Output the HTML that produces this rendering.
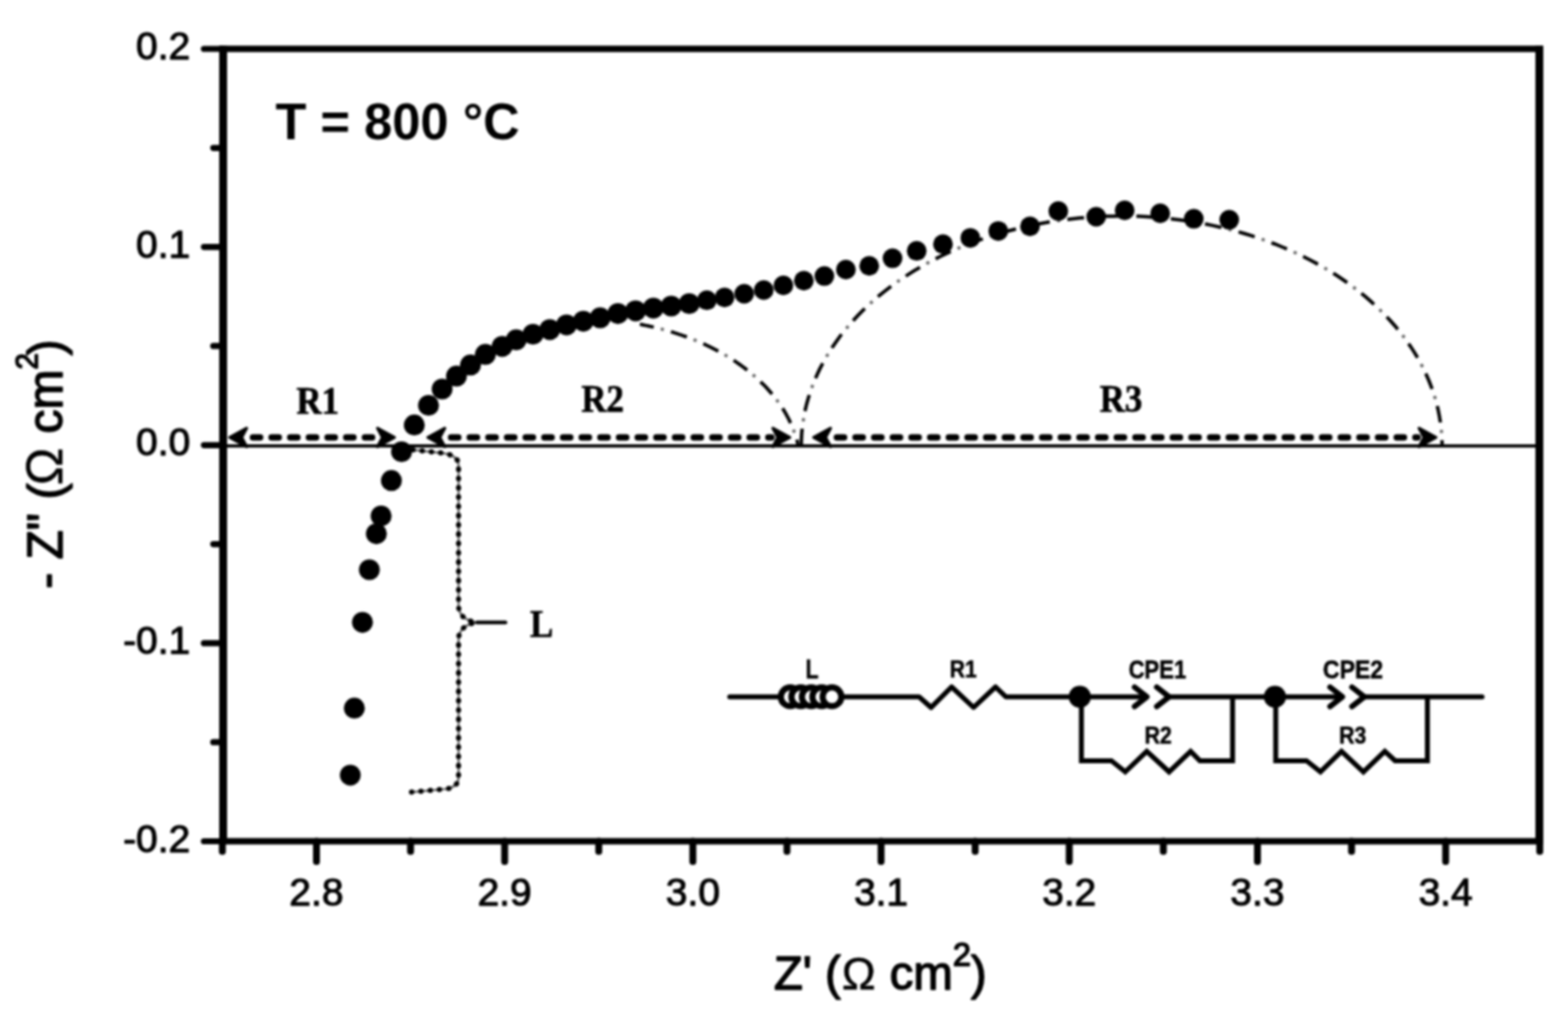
<!DOCTYPE html>
<html lang="en"><head><meta charset="utf-8"><title>Nyquist plot, T = 800 °C</title>
<style>
html,body{margin:0;padding:0;background:#fff;}
body{width:1588px;height:1032px;overflow:hidden;}
svg{display:block;filter:blur(0.85px);}
.sans{font-family:"Liberation Sans",sans-serif;fill:#000;}
.serif{font-family:"Liberation Serif",serif;font-weight:bold;fill:#000;}
.tk{font-size:39.4px;stroke:#000;stroke-width:1.1px;stroke-linejoin:round;paint-order:stroke;}
.ax{font-size:48px;stroke:#000;stroke-width:1.4px;stroke-linejoin:round;}
.ttl{font-size:51.3px;font-weight:bold;stroke:none;stroke-linejoin:round;}
.rl{font-size:39px;stroke:#000;stroke-width:0.7px;stroke-linejoin:round;}
.cl{font-weight:bold;font-size:26.5px;stroke:#000;stroke-width:0.5px;}
.cr{font-weight:bold;font-size:24.3px;stroke:#000;stroke-width:0.5px;}
</style></head><body>
<svg width="1588" height="1032" viewBox="0 0 1588 1032">
<rect x="0" y="0" width="1588" height="1032" fill="#fff"/>
<g id="plot">
<line x1="226.0" y1="451.6" x2="1559.0" y2="451.6" stroke="#000" stroke-width="3.1"/>
<path d="M808.5 451.6 L808.2 450.2 L807.8 448.7 L807.5 447.3 L807.1 445.8 L806.7 444.4 L806.3 443.0 L805.8 441.6 L805.3 440.1 L804.9 438.7 L804.3 437.3 L803.8 435.9 L803.3 434.5 L802.7 433.1 L802.1 431.7 L801.5 430.3 L800.9 428.9 L800.2 427.5 L799.6 426.1 L798.9 424.7 L798.2 423.3 L797.5 422.0 L796.7 420.6 L796.0 419.2 L795.2 417.9 L794.4 416.5 L793.6 415.2 L792.7 413.8 L791.9 412.5 L791.0 411.2 L790.1 409.8 L789.2 408.5 L788.2 407.2 L787.3 405.9 L786.3 404.6 L785.3 403.3 L784.3 402.0 L783.3 400.8 L782.3 399.5 L781.2 398.2 L780.1 397.0 L779.0 395.7 L777.9 394.5 L776.8 393.2 L775.7 392.0 L774.5 390.8 L773.3 389.6 L772.1 388.4 L770.9 387.2 L769.7 386.0 L768.4 384.8 L767.2 383.6 L765.9 382.5 L764.6 381.3 L763.3 380.2 L761.9 379.0 L760.6 377.9 L759.2 376.8 L757.8 375.7 L756.5 374.6 L755.0 373.5 L753.6 372.4 L752.2 371.3 L750.7 370.3 L749.3 369.2 L747.8 368.2 L746.3 367.1 L744.8 366.1 L743.2 365.1 L741.7 364.1 L740.1 363.1 L738.6 362.1 L737.0 361.1 L735.4 360.2 L733.8 359.2 L732.2 358.3 L730.5 357.4 L728.9 356.4 L727.2 355.5 L725.5 354.6 L723.8 353.8 L722.1 352.9 L720.4 352.0 L718.7 351.2 L717.0 350.3 L715.2 349.5 L713.5 348.7 L711.7 347.9 L709.9 347.1 L708.1 346.3 L706.3 345.6 L704.5 344.8 L702.7 344.1 L700.8 343.3 L699.0 342.6 L697.1 341.9 L695.3 341.2 L693.4 340.5 L691.5 339.9 L689.6 339.2 L687.7 338.6 L685.8 337.9 L683.9 337.3 L682.0 336.7 L680.0 336.1 L678.1 335.5 L676.1 335.0 L674.1 334.4 L672.2 333.9 L670.2 333.3 L668.2 332.8 L666.2 332.3 L664.2 331.8 L662.2 331.4 L660.2 330.9 L658.2 330.5 L656.2 330.0 L654.1 329.6 L652.1 329.2 L650.0 328.8 L648.0 328.4" fill="none" stroke="#000" stroke-width="3.5" stroke-dasharray="17 18" stroke-dashoffset="10.5"/><path d="M808.5 451.6 L808.2 450.2 L807.8 448.7 L807.5 447.3 L807.1 445.8 L806.7 444.4 L806.3 443.0 L805.8 441.6 L805.3 440.1 L804.9 438.7 L804.3 437.3 L803.8 435.9 L803.3 434.5 L802.7 433.1 L802.1 431.7 L801.5 430.3 L800.9 428.9 L800.2 427.5 L799.6 426.1 L798.9 424.7 L798.2 423.3 L797.5 422.0 L796.7 420.6 L796.0 419.2 L795.2 417.9 L794.4 416.5 L793.6 415.2 L792.7 413.8 L791.9 412.5 L791.0 411.2 L790.1 409.8 L789.2 408.5 L788.2 407.2 L787.3 405.9 L786.3 404.6 L785.3 403.3 L784.3 402.0 L783.3 400.8 L782.3 399.5 L781.2 398.2 L780.1 397.0 L779.0 395.7 L777.9 394.5 L776.8 393.2 L775.7 392.0 L774.5 390.8 L773.3 389.6 L772.1 388.4 L770.9 387.2 L769.7 386.0 L768.4 384.8 L767.2 383.6 L765.9 382.5 L764.6 381.3 L763.3 380.2 L761.9 379.0 L760.6 377.9 L759.2 376.8 L757.8 375.7 L756.5 374.6 L755.0 373.5 L753.6 372.4 L752.2 371.3 L750.7 370.3 L749.3 369.2 L747.8 368.2 L746.3 367.1 L744.8 366.1 L743.2 365.1 L741.7 364.1 L740.1 363.1 L738.6 362.1 L737.0 361.1 L735.4 360.2 L733.8 359.2 L732.2 358.3 L730.5 357.4 L728.9 356.4 L727.2 355.5 L725.5 354.6 L723.8 353.8 L722.1 352.9 L720.4 352.0 L718.7 351.2 L717.0 350.3 L715.2 349.5 L713.5 348.7 L711.7 347.9 L709.9 347.1 L708.1 346.3 L706.3 345.6 L704.5 344.8 L702.7 344.1 L700.8 343.3 L699.0 342.6 L697.1 341.9 L695.3 341.2 L693.4 340.5 L691.5 339.9 L689.6 339.2 L687.7 338.6 L685.8 337.9 L683.9 337.3 L682.0 336.7 L680.0 336.1 L678.1 335.5 L676.1 335.0 L674.1 334.4 L672.2 333.9 L670.2 333.3 L668.2 332.8 L666.2 332.3 L664.2 331.8 L662.2 331.4 L660.2 330.9 L658.2 330.5 L656.2 330.0 L654.1 329.6 L652.1 329.2 L650.0 328.8 L648.0 328.4" fill="none" stroke="#666" stroke-width="3.2" stroke-dasharray="3.2 31.8" stroke-dashoffset="-14"/>
<path d="M811.5 451.6 L811.6 445.5 L811.9 439.4 L812.5 433.3 L813.3 427.3 L814.3 421.2 L815.5 415.2 L816.9 409.2 L818.6 403.2 L820.5 397.3 L822.6 391.3 L824.9 385.5 L827.4 379.7 L830.1 373.9 L833.1 368.2 L836.2 362.5 L839.6 356.9 L843.1 351.4 L846.9 345.9 L850.8 340.5 L855.0 335.2 L859.3 330.0 L863.9 324.8 L868.6 319.7 L873.5 314.8 L878.6 309.9 L883.8 305.1 L889.2 300.4 L894.8 295.8 L900.6 291.4 L906.5 287.0 L912.6 282.7 L918.9 278.6 L925.3 274.6 L931.8 270.7 L938.5 266.9 L945.3 263.3 L952.2 259.7 L959.3 256.4 L966.4 253.1 L973.8 250.0 L981.2 247.0 L988.7 244.2 L996.3 241.5 L1004.0 238.9 L1011.8 236.5 L1019.7 234.3 L1027.7 232.2 L1035.7 230.2 L1043.8 228.4 L1052.0 226.7 L1060.2 225.2 L1068.5 223.9 L1076.9 222.7 L1085.2 221.7 L1093.6 220.8 L1102.1 220.1 L1110.5 219.5 L1119.0 219.1 L1127.5 218.9 L1136.0 218.8 L1144.5 218.9 L1153.0 219.1 L1161.5 219.5 L1169.9 220.1 L1178.4 220.8 L1186.8 221.7 L1195.1 222.7 L1203.5 223.9 L1211.8 225.2 L1220.0 226.7 L1228.2 228.4 L1236.3 230.2 L1244.3 232.2 L1252.3 234.3 L1260.2 236.5 L1268.0 238.9 L1275.7 241.5 L1283.3 244.2 L1290.8 247.0 L1298.2 250.0 L1305.6 253.1 L1312.7 256.4 L1319.8 259.7 L1326.7 263.3 L1333.5 266.9 L1340.2 270.7 L1346.7 274.6 L1353.1 278.6 L1359.4 282.7 L1365.5 287.0 L1371.4 291.4 L1377.2 295.8 L1382.8 300.4 L1388.2 305.1 L1393.4 309.9 L1398.5 314.8 L1403.4 319.7 L1408.1 324.8 L1412.7 330.0 L1417.0 335.2 L1421.2 340.5 L1425.1 345.9 L1428.9 351.4 L1432.4 356.9 L1435.8 362.5 L1438.9 368.2 L1441.9 373.9 L1444.6 379.7 L1447.1 385.5 L1449.4 391.3 L1451.5 397.3 L1453.4 403.2 L1455.1 409.2 L1456.5 415.2 L1457.7 421.2 L1458.7 427.3 L1459.5 433.3 L1460.1 439.4 L1460.4 445.5 L1460.5 451.6" fill="none" stroke="#000" stroke-width="3.5" stroke-dasharray="17 18" stroke-dashoffset="-0.5"/><path d="M811.5 451.6 L811.6 445.5 L811.9 439.4 L812.5 433.3 L813.3 427.3 L814.3 421.2 L815.5 415.2 L816.9 409.2 L818.6 403.2 L820.5 397.3 L822.6 391.3 L824.9 385.5 L827.4 379.7 L830.1 373.9 L833.1 368.2 L836.2 362.5 L839.6 356.9 L843.1 351.4 L846.9 345.9 L850.8 340.5 L855.0 335.2 L859.3 330.0 L863.9 324.8 L868.6 319.7 L873.5 314.8 L878.6 309.9 L883.8 305.1 L889.2 300.4 L894.8 295.8 L900.6 291.4 L906.5 287.0 L912.6 282.7 L918.9 278.6 L925.3 274.6 L931.8 270.7 L938.5 266.9 L945.3 263.3 L952.2 259.7 L959.3 256.4 L966.4 253.1 L973.8 250.0 L981.2 247.0 L988.7 244.2 L996.3 241.5 L1004.0 238.9 L1011.8 236.5 L1019.7 234.3 L1027.7 232.2 L1035.7 230.2 L1043.8 228.4 L1052.0 226.7 L1060.2 225.2 L1068.5 223.9 L1076.9 222.7 L1085.2 221.7 L1093.6 220.8 L1102.1 220.1 L1110.5 219.5 L1119.0 219.1 L1127.5 218.9 L1136.0 218.8 L1144.5 218.9 L1153.0 219.1 L1161.5 219.5 L1169.9 220.1 L1178.4 220.8 L1186.8 221.7 L1195.1 222.7 L1203.5 223.9 L1211.8 225.2 L1220.0 226.7 L1228.2 228.4 L1236.3 230.2 L1244.3 232.2 L1252.3 234.3 L1260.2 236.5 L1268.0 238.9 L1275.7 241.5 L1283.3 244.2 L1290.8 247.0 L1298.2 250.0 L1305.6 253.1 L1312.7 256.4 L1319.8 259.7 L1326.7 263.3 L1333.5 266.9 L1340.2 270.7 L1346.7 274.6 L1353.1 278.6 L1359.4 282.7 L1365.5 287.0 L1371.4 291.4 L1377.2 295.8 L1382.8 300.4 L1388.2 305.1 L1393.4 309.9 L1398.5 314.8 L1403.4 319.7 L1408.1 324.8 L1412.7 330.0 L1417.0 335.2 L1421.2 340.5 L1425.1 345.9 L1428.9 351.4 L1432.4 356.9 L1435.8 362.5 L1438.9 368.2 L1441.9 373.9 L1444.6 379.7 L1447.1 385.5 L1449.4 391.3 L1451.5 397.3 L1453.4 403.2 L1455.1 409.2 L1456.5 415.2 L1457.7 421.2 L1458.7 427.3 L1459.5 433.3 L1460.1 439.4 L1460.4 445.5 L1460.5 451.6" fill="none" stroke="#666" stroke-width="3.2" stroke-dasharray="3.2 31.8" stroke-dashoffset="-25"/>
<line x1="256.2" y1="443.0" x2="380.8" y2="443.0" stroke="#000" stroke-width="6.6" stroke-linecap="round" stroke-dasharray="7.2 11.7"/>
<path d="M232.5 443.0 L249.9 433.6 L244.8 443.0 L249.9 452.4 Z" fill="#000" stroke="#000" stroke-width="2.8" stroke-linejoin="round"/>
<path d="M399.6 443.0 L382.2 433.6 L387.3 443.0 L382.2 452.4 Z" fill="#000" stroke="#000" stroke-width="2.8" stroke-linejoin="round"/>
<line x1="456.9" y1="443.0" x2="781.2" y2="443.0" stroke="#000" stroke-width="6.6" stroke-linecap="round" stroke-dasharray="7.2 11.7"/>
<path d="M433.2 443.0 L450.6 433.6 L445.5 443.0 L450.6 452.4 Z" fill="#000" stroke="#000" stroke-width="2.8" stroke-linejoin="round"/>
<path d="M800.0 443.0 L782.6 433.6 L787.7 443.0 L782.6 452.4 Z" fill="#000" stroke="#000" stroke-width="2.8" stroke-linejoin="round"/>
<line x1="847.6" y1="443.0" x2="1435.6" y2="443.0" stroke="#000" stroke-width="6.6" stroke-linecap="round" stroke-dasharray="7.2 11.7"/>
<path d="M823.9 443.0 L841.3 433.6 L836.2 443.0 L841.3 452.4 Z" fill="#000" stroke="#000" stroke-width="2.8" stroke-linejoin="round"/>
<path d="M1454.4 443.0 L1437.0 433.6 L1442.1 443.0 L1437.0 452.4 Z" fill="#000" stroke="#000" stroke-width="2.8" stroke-linejoin="round"/>
<path d="M418 455.6 L446 458.6 Q464.4 460.5 464.4 471 L464.4 613 Q464.4 627 482 630.4 Q464.4 634 464.4 648 L464.4 787 Q464.4 797 452 799 L415.5 802.3" fill="none" stroke="#666" stroke-width="2.2"/>
<path d="M418 455.6 L446 458.6 Q464.4 460.5 464.4 471 L464.4 613 Q464.4 627 482 630.4 Q464.4 634 464.4 648 L464.4 787 Q464.4 797 452 799 L415.5 802.3" fill="none" stroke="#000" stroke-width="5.2" stroke-linecap="round" stroke-dasharray="0.5 8.9"/>
<line x1="483" y1="630.4" x2="512" y2="630.4" stroke="#000" stroke-width="3.6" stroke-linecap="round"/>
<circle cx="354.8" cy="785.1" r="10.6" fill="#000"/>
<circle cx="358.9" cy="717.2" r="10.6" fill="#000"/>
<circle cx="367.1" cy="630.3" r="10.6" fill="#000"/>
<circle cx="374.1" cy="577" r="10.6" fill="#000"/>
<circle cx="381.2" cy="540.6" r="10.6" fill="#000"/>
<circle cx="386" cy="522.6" r="10.6" fill="#000"/>
<circle cx="396.4" cy="486.7" r="10.6" fill="#000"/>
<circle cx="406.7" cy="457.5" r="10.6" fill="#000"/>
<circle cx="419.6" cy="430.4" r="10.6" fill="#000"/>
<circle cx="434" cy="410.5" r="10.6" fill="#000"/>
<circle cx="447.8" cy="394" r="10.6" fill="#000"/>
<circle cx="462.3" cy="380.9" r="10.6" fill="#000"/>
<circle cx="476.5" cy="369.7" r="10.6" fill="#000"/>
<circle cx="491.6" cy="358.9" r="10.6" fill="#000"/>
<circle cx="508.6" cy="350.8" r="10.6" fill="#000"/>
<circle cx="522.8" cy="344.2" r="10.6" fill="#000"/>
<circle cx="539.8" cy="338.5" r="10.6" fill="#000"/>
<circle cx="556.8" cy="333.8" r="10.6" fill="#000"/>
<circle cx="573.8" cy="329.1" r="10.6" fill="#000"/>
<circle cx="590.8" cy="325.3" r="10.6" fill="#000"/>
<circle cx="607.8" cy="321.9" r="10.6" fill="#000"/>
<circle cx="625.8" cy="317.6" r="10.6" fill="#000"/>
<circle cx="643.7" cy="314.8" r="10.6" fill="#000"/>
<circle cx="661.7" cy="312.1" r="10.6" fill="#000"/>
<circle cx="679.8" cy="310.0" r="10.6" fill="#000"/>
<circle cx="698" cy="307.5" r="10.6" fill="#000"/>
<circle cx="715.9" cy="304.1" r="10.0" fill="#000"/>
<circle cx="733.8" cy="301.3" r="10.0" fill="#000"/>
<circle cx="753.7" cy="297.5" r="10.0" fill="#000"/>
<circle cx="773.5" cy="293.7" r="10.0" fill="#000"/>
<circle cx="793.4" cy="289" r="10.0" fill="#000"/>
<circle cx="814.1" cy="284.3" r="10.0" fill="#000"/>
<circle cx="834.9" cy="279.6" r="10.0" fill="#000"/>
<circle cx="856.7" cy="273" r="10.0" fill="#000"/>
<circle cx="880.3" cy="269.2" r="10.0" fill="#000"/>
<circle cx="903.9" cy="261.6" r="10.0" fill="#000"/>
<circle cx="928.4" cy="254.1" r="10.0" fill="#000"/>
<circle cx="955" cy="247.3" r="10.0" fill="#000"/>
<circle cx="982.7" cy="240.9" r="10.0" fill="#000"/>
<circle cx="1011" cy="233.9" r="10.0" fill="#000"/>
<circle cx="1043.1" cy="229.2" r="10.0" fill="#000"/>
<circle cx="1071.8" cy="213.7" r="10.0" fill="#000"/>
<circle cx="1110.2" cy="219.5" r="10.0" fill="#000"/>
<circle cx="1139" cy="213" r="10.0" fill="#000"/>
<circle cx="1175" cy="216" r="10.0" fill="#000"/>
<circle cx="1209" cy="221.6" r="10.0" fill="#000"/>
<circle cx="1244.9" cy="222.6" r="10.0" fill="#000"/>
</g>
<g id="axes" stroke="#000" fill="none">
<path d="M222.1 49.5 L1562.9 49.5 M222.1 852.0 L1562.9 852.0" stroke-width="6.7"/>
<path d="M226.0 46.5 L226.0 855.0 M1559.0 46.5 L1559.0 855.0" stroke-width="8"/>
<g stroke-width="6.2" stroke-linecap="round">
<line x1="206.5" y1="49.5" x2="226.0" y2="49.5"/>
<line x1="206.5" y1="250.1" x2="226.0" y2="250.1"/>
<line x1="206.5" y1="450.8" x2="226.0" y2="450.8"/>
<line x1="206.5" y1="651.4" x2="226.0" y2="651.4"/>
<line x1="206.5" y1="852.0" x2="226.0" y2="852.0"/>
<line x1="216" y1="149.8" x2="226.0" y2="149.8"/>
<line x1="216" y1="350.4" x2="226.0" y2="350.4"/>
<line x1="216" y1="551.1" x2="226.0" y2="551.1"/>
<line x1="216" y1="751.7" x2="226.0" y2="751.7"/>
</g><g stroke-width="7" stroke-linecap="round">
<line x1="320.5" y1="852.0" x2="320.5" y2="872.6"/>
<line x1="511.1" y1="852.0" x2="511.1" y2="872.6"/>
<line x1="701.7" y1="852.0" x2="701.7" y2="872.6"/>
<line x1="892.3" y1="852.0" x2="892.3" y2="872.6"/>
<line x1="1082.9" y1="852.0" x2="1082.9" y2="872.6"/>
<line x1="1273.5" y1="852.0" x2="1273.5" y2="872.6"/>
<line x1="1464.1" y1="852.0" x2="1464.1" y2="872.6"/>
<line x1="225.2" y1="852.0" x2="225.2" y2="862.3"/>
<line x1="415.8" y1="852.0" x2="415.8" y2="862.3"/>
<line x1="606.4" y1="852.0" x2="606.4" y2="862.3"/>
<line x1="797.0" y1="852.0" x2="797.0" y2="862.3"/>
<line x1="987.6" y1="852.0" x2="987.6" y2="862.3"/>
<line x1="1178.2" y1="852.0" x2="1178.2" y2="862.3"/>
<line x1="1368.8" y1="852.0" x2="1368.8" y2="862.3"/>
<line x1="1559.4" y1="852.0" x2="1559.4" y2="862.3"/>
</g></g>
<g id="ticklabels" class="sans tk">
<text x="192.6" y="60.1" text-anchor="end">0.2</text>
<text x="192.6" y="260.7" text-anchor="end">0.1</text>
<text x="192.6" y="461.4" text-anchor="end">0.0</text>
<text x="192.6" y="662.0" text-anchor="end">-0.1</text>
<text x="192.6" y="862.6" text-anchor="end">-0.2</text>
<text x="320.5" y="917" text-anchor="middle">2.8</text>
<text x="511.1" y="917" text-anchor="middle">2.9</text>
<text x="701.7" y="917" text-anchor="middle">3.0</text>
<text x="892.3" y="917" text-anchor="middle">3.1</text>
<text x="1082.9" y="917" text-anchor="middle">3.2</text>
<text x="1273.5" y="917" text-anchor="middle">3.3</text>
<text x="1464.1" y="917" text-anchor="middle">3.4</text>
</g>
<text class="sans ax" x="891.5" y="1001.5" text-anchor="middle">Z' (<tspan font-size="46" stroke-width="0.5" dx="0.8">Ω</tspan><tspan dx="0.8"> cm</tspan><tspan font-size="33" dy="-23.5">2</tspan><tspan dy="23.5">)</tspan></text>
<text class="sans ax" transform="translate(63.4 596.3) rotate(-90) scale(1 1.03)" style="font-size:48.6px" text-anchor="start">- Z" <tspan dx="0.5">(</tspan><tspan dx="-2" font-size="51" stroke-width="0.5">Ω</tspan><tspan dx="0.8"> cm</tspan><tspan font-size="30" dy="-25" dx="0">2</tspan><tspan dy="25" dx="-2.4">)</tspan></text>
<text class="sans ttl" x="279" y="141">T = 800 °C</text>
<text class="serif rl" x="321.8" y="419" text-anchor="middle" textLength="43" lengthAdjust="spacingAndGlyphs">R1</text>
<text class="serif rl" x="610.3" y="417.3" text-anchor="middle" textLength="43" lengthAdjust="spacingAndGlyphs">R2</text>
<text class="serif rl" x="1135.3" y="417.3" text-anchor="middle" textLength="43" lengthAdjust="spacingAndGlyphs">R3</text>
<text class="serif rl" x="548.5" y="644.5" text-anchor="middle" textLength="23.5" lengthAdjust="spacingAndGlyphs">L</text>
<g id="circuit" stroke="#000" fill="none" stroke-width="5" stroke-linejoin="round" stroke-linecap="round">
<path d="M739 705.7 L789 705.7"/>
<circle cx="800.3" cy="705.7" r="9.5" fill="#fff" stroke-width="6.2"/>
<circle cx="811.0" cy="705.7" r="9.5" fill="#fff" stroke-width="6.2"/>
<circle cx="821.6" cy="705.7" r="9.5" fill="#fff" stroke-width="6.2"/>
<circle cx="832.2" cy="705.7" r="9.5" fill="#fff" stroke-width="6.2"/>
<circle cx="842.6" cy="705.7" r="9.5" fill="#fff" stroke-width="6.2"/>
<path d="M854 705.7 L930.7 705.7 L943 716.5 L963.7 695.7 L986 716.5 L1008.3 695.7 L1018.7 705.7 L1160 705.7"/>
<path stroke-width="5.6" d="M1149.0 695.9000000000001 L1161.5 705.7 L1149.0 715.5"/><path stroke-width="5.6" d="M1171.5 695.9000000000001 L1184 705.7 L1171.5 715.5"/>
<path d="M1184 705.7 L1358 705.7"/>
<path stroke-width="5.6" d="M1347.0 695.9000000000001 L1359.5 705.7 L1347.0 715.5"/><path stroke-width="5.6" d="M1369.2 695.9000000000001 L1381.7 705.7 L1369.2 715.5"/>
<path d="M1381.7 705.7 L1501 705.7"/>
<path stroke-linecap="butt" stroke-linejoin="miter" d="M1095.2 705.7 L1095.2 770.4 L1125.5 770.4 L1139.6 781.7 L1161.4 760.9 L1184 781.7 L1205.8 760.9 L1215.2 770.4 L1248.3 770.4 L1248.3 705.7"/>
<path stroke-linecap="butt" stroke-linejoin="miter" d="M1292 705.7 L1292 770.4 L1323.1 770.4 L1337.3 781.7 L1358.6 760.9 L1380.8 781.7 L1402.5 760.9 L1412.9 770.4 L1445.6 770.4 L1445.6 705.7"/>
<circle cx="1093.6" cy="705.7" r="11.2" fill="#000" stroke="none"/>
<circle cx="1291.2" cy="705.7" r="11.2" fill="#000" stroke="none"/>
</g>
<g id="circuitlabels" class="sans" text-anchor="middle">
<text class="cl" x="822.3" y="687.3" style="font-size:28px" textLength="13.2" lengthAdjust="spacingAndGlyphs">L</text>
<text class="cr" x="975.5" y="686" textLength="27.5" lengthAdjust="spacingAndGlyphs">R1</text>
<text class="cl" x="1172.2" y="687" textLength="58.5" lengthAdjust="spacingAndGlyphs">CPE1</text>
<text class="cl" x="1370.3" y="687" textLength="61" lengthAdjust="spacingAndGlyphs">CPE2</text>
<text class="cr" x="1173" y="752.5" textLength="27.5" lengthAdjust="spacingAndGlyphs">R2</text>
<text class="cr" x="1370" y="752.5" textLength="27.5" lengthAdjust="spacingAndGlyphs">R3</text>
</g>
</svg></body></html>
